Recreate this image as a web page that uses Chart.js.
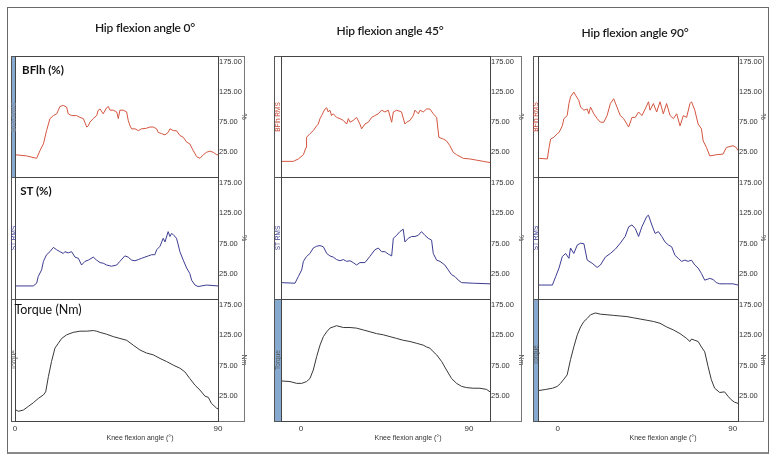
<!DOCTYPE html>
<html>
<head>
<meta charset="utf-8">
<script src="https://cdn.jsdelivr.net/npm/chart.js"></script>
<style>
  body { margin: 0; background: #fff; width: 777px; height: 463px; overflow: hidden; position: relative; font-family: Lato, "Open Sans", sans-serif; }
  canvas { position: absolute; }
  .box { position: absolute; box-sizing: border-box; pointer-events: none; }
  .txt { position: absolute; white-space: nowrap; transform: translate(-50%, -50%); line-height: 1; }
</style>
</head>
<body>
<script>
// ---- data (knee flexion angle in degrees, value) ----
const columnTitles = ['Hip flexion angle 0°', 'Hip flexion angle 45°', 'Hip flexion angle 90°'];
const rowLabels = ['BFlh (%)', 'ST (%)', 'Torque (Nm)'];
const stripLabels = ['BFlh RMS', 'ST RMS', 'Torque'];
const unitLabels = ['%', '%', 'Nm'];
const yTicks = [25, 75, 125, 175];
const xTicks = [0, 90];
const xTitle = 'Knee flexion angle (°)';

// hip 0°
const bflhHip0 = [[0,21],[5.2,19],[9.6,15],[11.1,28],[12.6,39],[14.0,61],[15.5,81],[17.0,86],[18.5,89],[19.2,95],[19.9,101],[21.4,103],[22.9,100],[23.6,89],[25.1,86],[27.3,86],[28.8,83],[30.3,81],[31.8,67],[32.5,69],[33.2,75],[34.7,81],[36.2,86],[36.9,95],[37.7,97],[39.1,89],[40.6,99],[41.4,101],[42.1,95],[43.6,95],[45.1,92],[45.8,81],[46.5,95],[48.0,95],[49.5,92],[50.2,78],[51.0,69],[51.7,64],[53.2,64],[54.7,61],[56.1,64],[58.3,65],[59.8,67],[61.3,67],[62.8,64],[63.5,58],[65.0,56],[66.5,54],[67.9,58],[68.7,64],[70.2,61],[71.6,61],[73.1,53],[74.6,50],[76.1,42],[77.5,39],[79.0,28],[80.5,18],[82.0,15],[83.5,21],[84.9,25],[86.4,27],[87.9,25],[89.4,21],[90,21]];
const stHip0 = [[0,5.5],[8.1,5.5],[9.6,10],[10.3,21],[11.8,32],[12.6,46],[14.0,57],[15.5,62],[17.0,69],[18.5,65],[19.9,62],[21.4,59],[22.1,62],[23.6,60],[25.1,62],[26.6,53],[28.1,51],[29.5,40],[31.0,46],[32.5,48],[34.7,53],[36.2,48],[37.7,44],[39.1,43],[40.6,40],[42.8,38],[45.1,40],[46.5,46],[48.7,55],[50.2,53],[51.7,48],[53.2,47],[54.7,49],[56.1,51],[57.6,53],[59.1,55],[60.6,57],[62.0,57],[62.8,65],[64.3,71],[65.7,84],[66.5,78],[67.9,95],[68.7,87],[69.4,92],[70.2,90],[71.6,84],[72.4,73],[73.1,62],[74.6,48],[76.1,35],[77.5,26],[78.3,15],[79.8,7],[81.2,4.5],[84.9,7],[90,5.5]];
const torqueHip0 = [[0,3],[1.5,0],[3.7,2],[5.9,8],[8.1,14],[10.3,21],[12.6,27],[13.6,32],[14.8,57],[16.2,82],[17.7,104],[19.2,112],[20.7,120],[22.9,126],[25.8,130],[28.8,132],[31.8,132],[34.7,133],[36.2,132],[37.7,130],[40.6,127],[43.6,123],[46.5,120],[49.5,117],[52.4,109],[55.4,101],[58.3,96],[61.3,93],[64.3,87],[67.2,82],[70.2,76],[73.1,71],[75.3,65],[77.5,54],[79.8,43],[82.0,35],[84.2,25],[85.7,23],[87.1,13],[89.4,5],[90,4]];

// hip 45°
const bflhHip45 = [[-10.7,10],[-4.1,10],[-1.4,14],[1.3,21],[2.7,33],[3.0,50],[4.8,56],[6.6,61],[8.4,69],[9.3,72],[10.2,81],[11.1,86],[12.0,92],[12.9,97],[13.8,99],[14.6,92],[15.5,95],[16.4,86],[17.3,89],[19.1,83],[20.9,81],[22.7,78],[24.5,72],[25.4,81],[26.3,75],[28.0,78],[29.8,83],[31.6,72],[32.5,64],[34.3,72],[36.1,75],[37.9,83],[39.6,86],[41.4,89],[43.2,95],[45.0,92],[46.8,95],[48.6,75],[49.5,92],[51.3,95],[53.9,92],[55.7,72],[56.6,75],[58.4,78],[60.2,86],[61.1,95],[62.9,89],[63.8,95],[65.5,92],[67.3,97],[69.1,97],[70.9,89],[72.7,83],[73.9,50],[76.3,47],[78.0,44],[79.8,36],[81.6,25],[83.4,21],[87.0,15],[90.5,14],[94.1,12],[97.7,10],[101.3,8]];
const stHip45 = [[-10.7,11],[-3.2,10],[-1.4,21],[0.4,32],[1.3,46],[3.0,54],[4.8,59],[6.6,68],[8.4,71],[10.2,72],[12.0,70],[13.8,59],[15.5,55],[17.3,53],[19.1,49],[20.9,47],[22.7,49],[24.5,46],[26.3,47],[28.0,44],[29.8,40],[31.6,44],[34.3,44],[36.9,54],[39.6,65],[41.4,68],[43.2,62],[45.0,62],[46.8,58],[48.6,55],[49.5,84],[51.3,89],[53.0,95],[54.8,99],[55.7,78],[57.5,84],[59.3,87],[61.1,87],[62.9,89],[64.6,95],[66.4,89],[68.2,84],[70.0,81],[70.9,59],[72.7,48],[74.5,46],[77.1,40],[78.9,32],[80.7,24],[82.5,21],[84.3,15],[86.1,11],[92.3,10],[101.3,9]];
const torqueHip45 = [[-10.7,50],[-5.9,49],[-2.3,46],[0.4,46],[3.0,49],[4.8,54],[6.6,68],[8.4,90],[10.2,109],[12.0,123],[13.8,131],[15.5,137],[17.3,139],[19.1,141],[22.7,138],[26.3,138],[29.8,137],[33.4,134],[37.0,131],[40.5,128],[44.1,126],[47.7,123],[51.3,120],[54.8,117],[58.4,115],[62.0,112],[65.5,109],[67.3,106],[69.1,104],[70.9,98],[72.7,93],[75.4,82],[78.0,68],[80.7,54],[83.4,46],[86.1,41],[88.8,39],[92.3,38],[95.9,38],[99.5,36],[101.3,32]];

// hip 90°
const bflhHip90 = [[-10.1,15],[-9.5,15],[-5.3,14],[-4.4,33],[-3.6,47],[-1.9,50],[-0.2,56],[0.7,58],[2.4,69],[3.2,81],[4.9,86],[5.8,106],[6.6,117],[8.3,125],[9.2,120],[10.9,111],[11.8,100],[13.5,95],[15.2,97],[16.0,89],[16.9,100],[18.6,89],[20.3,81],[22.0,75],[23.7,75],[25.4,86],[27.1,106],[28.8,114],[30.5,100],[32.2,86],[33.9,81],[35.6,72],[36.5,67],[38.2,83],[39.9,83],[41.6,92],[43.3,86],[45.0,97],[46.7,109],[47.5,95],[49.2,106],[50.9,92],[52.6,109],[54.3,89],[56.0,106],[57.8,86],[59.5,81],[61.2,89],[62.9,69],[64.6,86],[66.3,83],[68.0,106],[68.8,109],[70.5,95],[72.2,72],[73.9,64],[74.8,44],[76.5,33],[78.2,19],[81.6,21],[85.0,22],[86.7,33],[90.1,36],[91.8,33],[92.7,28]];
const stHip90 = [[-10.1,7],[-2.7,7],[-1.0,21],[0.7,35],[2.4,54],[4.1,59],[5.8,51],[6.6,68],[8.3,59],[10.1,73],[11.8,76],[13.5,75],[15.2,48],[17.7,43],[20.3,36],[22.0,40],[24.5,53],[27.1,59],[29.6,66],[32.2,76],[34.7,87],[36.5,103],[38.2,106],[39.9,100],[41.6,87],[43.3,103],[45.8,120],[46.7,122],[48.4,106],[50.1,92],[51.8,95],[53.5,87],[55.2,78],[56.9,73],[58.6,70],[60.3,56],[62.0,51],[63.7,46],[65.4,48],[67.1,46],[68.8,48],[70.5,40],[72.2,35],[73.9,26],[75.6,15],[78.2,18],[79.9,16],[81.6,11],[83.3,9],[86.7,9],[90.1,9],[92.7,7]];
const torqueHip90 = [[-10.1,34],[-6.1,36],[-2.7,38],[-0.2,41],[1.5,46],[3.2,53],[4.9,60],[6.6,85],[8.3,106],[10.1,126],[11.8,139],[13.5,148],[15.2,153],[16.9,159],[19.4,162],[22.0,160],[25.4,159],[28.8,158],[32.2,157],[35.6,156],[39.0,154],[42.4,152],[45.8,150],[49.2,148],[52.6,145],[56.0,139],[59.5,134],[62.9,128],[66.3,120],[68.0,115],[68.8,119],[70.5,117],[72.2,115],[73.9,106],[75.6,98],[77.3,74],[79.0,52],[80.7,38],[83.3,31],[85.8,32],[87.5,25],[89.2,19],[90.9,15],[92.7,13]];

const series = [
  [bflhHip0, stHip0, torqueHip0],
  [bflhHip45, stHip45, torqueHip45],
  [bflhHip90, stHip90, torqueHip90]
];

// ---- layout (pixels) ----
const cols = [
  { stripL: 11, plotL: 15, plotR: 218, tickR: 244, xMin: 0, xMax: 90, titleX: 145, titleY: 28, xTitleX: 140 },
  { stripL: 274, plotL: 281, plotR: 490, tickR: 521, xMin: -10.7, xMax: 101.3, titleX: 390, titleY: 31, xTitleX: 408 },
  { stripL: 533, plotL: 538, plotR: 738, tickR: 763, xMin: -10.1, xMax: 92.7, titleX: 635, titleY: 33, xTitleX: 663 }
];
const rows = [{ top: 56, bot: 177 }, { top: 177, bot: 299 }, { top: 299, bot: 421 }];
const lineColors = ['#d4553f', '#3c3c92', '#383838'];
const stripColors = ['#c8493a', '#3c3c92', '#555'];
const blueStrips = [[0, 0], [1, 2], [2, 2]]; // [col,row] selected panels
const PADL = 8, PADR = 6, XAXIS_H = 26;

function addDiv(cls, css, text) {
  const d = document.createElement('div');
  d.className = cls;
  Object.assign(d.style, css);
  if (text) d.textContent = text;
  document.body.appendChild(d);
  return d;
}

function makePanel(c, r) {
  const col = cols[c], row = rows[r];
  const bottomRow = r === 2;
  const cv = document.createElement('canvas');
  const w = col.tickR + PADR - (col.plotL - PADL);
  const h = row.bot - row.top + (bottomRow ? XAXIS_H : 0);
  cv.width = w; cv.height = h;
  cv.style.left = (col.plotL - PADL) + 'px';
  cv.style.top = row.top + 'px';
  document.body.appendChild(cv);

  new Chart(cv.getContext('2d'), {
    type: 'line',
    data: {
      datasets: [{
        data: series[c][r].map(p => ({ x: p[0], y: p[1] })),
        borderColor: lineColors[r],
        borderWidth: 1,
        pointRadius: 0,
        tension: 0
      }]
    },
    options: {
      responsive: false,
      animation: false,
      layout: { padding: { left: PADL, right: 0, top: 0, bottom: 0 } },
      plugins: { legend: { display: false }, tooltip: { enabled: false } },
      scales: {
        x: {
          type: 'linear', min: col.xMin, max: col.xMax,
          display: bottomRow,
          grid: { display: false, drawTicks: false },
          border: { display: false },
          afterBuildTicks: s => { s.ticks = xTicks.map(v => ({ value: v })); },
          ticks: { padding: 3, autoSkip: false, maxRotation: 0, color: '#333',
                   font: { family: 'Liberation Sans, Arial', size: 8 }, callback: v => String(v) },
          afterFit: s => { if (bottomRow) { s.height = XAXIS_H; s.paddingLeft = 0; s.paddingRight = 0; } }
        },
        y: {
          position: 'right', min: -16, max: 185,
          grid: { display: false, drawTicks: false },
          border: { display: false },
          afterBuildTicks: s => { s.ticks = yTicks.map(v => ({ value: v })); },
          ticks: { padding: 1, autoSkip: false, color: '#333',
                   font: { family: 'Liberation Sans, Arial', size: 7.5 }, callback: v => v.toFixed(2) },
          title: { display: true, text: unitLabels[r], color: '#444', padding: { top: 2, bottom: 0 },
                   font: { family: 'Liberation Sans, Arial', size: 7 } },
          afterFit: s => { s.width = col.tickR + PADR - col.plotR; s.paddingTop = 0; s.paddingBottom = 0; }
        }
      }
    }
  });
}

for (let c = 0; c < 3; c++) for (let r = 0; r < 3; r++) makePanel(c, r);

// frames
addDiv('box', { left: '7px', top: '7px', width: '762px', height: '447px', border: '1px solid #6a6a6a', borderBottom: '2px solid #8a8a8a' });
cols.forEach((col, c) => {
  addDiv('box', { left: col.plotR + 'px', top: rows[0].top + 'px', width: (col.tickR - col.plotR + 1) + 'px',
                  height: (rows[2].bot - rows[0].top + 1) + 'px', border: '1px solid #777' });
  rows.forEach((row, r) => {
    const sel = blueStrips.some(b => b[0] === c && b[1] === r);
    addDiv('box', { left: col.stripL + 'px', top: row.top + 'px', width: (col.plotL - col.stripL + 1) + 'px',
                    height: (row.bot - row.top + 1) + 'px', border: '1px solid #555',
                    background: sel ? '#86a9d0' : 'transparent' });
    addDiv('box', { left: col.plotL + 'px', top: row.top + 'px', width: (col.plotR - col.plotL + 1) + 'px',
                    height: (row.bot - row.top + 1) + 'px', border: '1px solid #444' });
    const cy = (row.top + row.bot) / 2 - (r === 2 && c === 2 ? 5 : 0);
    const sx = (col.stripL + col.plotL) / 2 + 0.5;
    addDiv('txt', { left: sx + 'px', top: cy + 'px', fontFamily: 'Liberation Sans, Arial', fontSize: '6.5px',
                    color: (c === 0 && r === 0) ? '#7d8696' : stripColors[r],
                    transform: 'translate(-50%,-50%) rotate(-90deg)' }, stripLabels[r]);
  });
  addDiv('txt', { left: col.titleX + 'px', top: col.titleY + 'px', fontSize: '12px', fontWeight: '600',
                  letterSpacing: '-0.2px', color: '#1a1a1a' }, columnTitles[c]);
  addDiv('txt', { left: col.xTitleX + 'px', top: '437px', fontFamily: 'Liberation Sans, Arial', fontSize: '7px', color: '#333' }, xTitle);
});

// row labels in first column
addDiv('txt', { left: '43px', top: '70px', fontSize: '11.5px', fontWeight: '700', color: '#111' }, rowLabels[0]);
addDiv('txt', { left: '36px', top: '191px', fontSize: '11.5px', fontWeight: '700', color: '#111' }, rowLabels[1]);
addDiv('txt', { left: '48px', top: '310px', fontSize: '12.5px', fontWeight: '400', color: '#111' }, rowLabels[2]);
</script>
</body>
</html>
